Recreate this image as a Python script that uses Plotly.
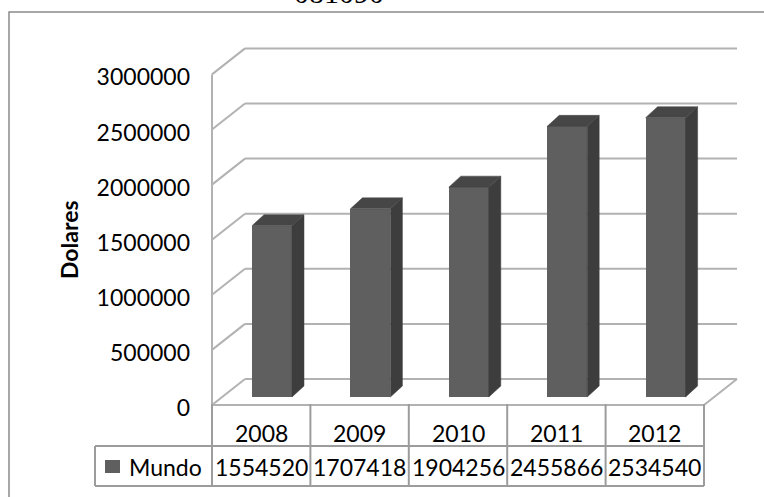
import plotly.graph_objects as go

# ---- data -------------------------------------------------------------
years = ["2008", "2009", "2010", "2011", "2012"]
mundo = [1554520, 1707418, 1904256, 2455866, 2534540]
y_ticks = [0, 500000, 1000000, 1500000, 2000000, 2500000, 3000000]
series_name = "Mundo"
axis_title = "Dolares"
chart_title = "081090"

# ---- layout constants (pixels) -----------------------------------------
W, H = 764, 497
CAT_W = 98.4          # width of one category on the front plane
X0 = 261.2            # front-plane centre of the first category
Y0 = 405.0            # front-plane zero line
PX_PER_UNIT = 110.2 / 1e6

WALL_DX, WALL_DY = 33, 26     # depth of the 3-D box
BAR_DX, BAR_DY = 10.8, 8      # where the column row sits inside the box
BAR_W = 40
BAR_DEPTH_X, BAR_DEPTH_Y = 12, 11

FONT = "Lato"
GRID = "#b2b2b2"
TABLE = "#9c9c9c"
FRONT = "#5f5f5f"
SIDE = "#3d3d3d"
TOP = "#464646"


def ux(px):
    return px / CAT_W


def uy(px):
    return px / PX_PER_UNIT


def px_x(p):
    return (p - X0) / CAT_W


def px_y(p):
    return (Y0 - p) / PX_PER_UNIT


def paper_y(p):
    return 1 - p / H


n = len(years)
left, right = -0.5, n - 0.5
wdx, wdy = ux(WALL_DX), uy(WALL_DY)
top_tick = y_ticks[-1]

fig = go.Figure()
shapes = []


def wall_line(xs, ys):
    shapes.append(dict(type="path", xref="x", yref="y", layer="below",
                       path="M " + " L ".join(f"{a} {b}" for a, b in zip(xs, ys)),
                       line=dict(color=GRID, width=2)))


# ---- walls and floor (behind the columns) --------------------------------
for t in y_ticks:
    wall_line([left + wdx, right + wdx], [t + wdy, t + wdy])   # back wall
    wall_line([left, left + wdx], [t, t + wdy])                # side wall
wall_line([left, left], [0, top_tick])                         # wall front edge
wall_line([left, right, right + wdx], [0, 0, wdy])             # floor edges

# ---- columns ------------------------------------------------------------
bdx, bdy = ux(BAR_DX), uy(BAR_DY)
bw = ux(BAR_W)
ddx, ddy = ux(BAR_DEPTH_X), uy(BAR_DEPTH_Y)
bar_x = [i + bdx for i in range(n)]

fig.add_trace(go.Bar(x=bar_x, y=mundo, base=bdy, width=bw, name=series_name,
                     marker=dict(color=FRONT, line=dict(width=0)),
                     showlegend=False))

for xc, v in zip(bar_x, mundo):
    xl, xr = xc - bw / 2, xc + bw / 2
    b, t = bdy, bdy + v
    fig.add_trace(go.Scatter(
        x=[xr, xr + ddx, xr + ddx, xr, xr],
        y=[b, b + ddy, t + ddy, t, b],
        mode="lines", fill="toself", fillcolor=SIDE,
        line=dict(color=SIDE, width=0.5),
        hoverinfo="skip", showlegend=False))
    fig.add_trace(go.Scatter(
        x=[xl, xl + ddx, xr + ddx, xr, xl],
        y=[t, t + ddy, t + ddy, t, t],
        mode="lines", fill="toself", fillcolor=TOP,
        line=dict(color=TOP, width=0.5),
        hoverinfo="skip", showlegend=False))

# ---- data table ----------------------------------------------------------
row_top, row_mid, row_bot = 404, 446, 486
key_left = px_x(95)
for i in range(n + 1):
    shapes.append(dict(type="line", xref="x", yref="paper",
                       x0=i - 0.5, x1=i - 0.5,
                       y0=paper_y(row_top), y1=paper_y(row_bot),
                       line=dict(color=TABLE, width=2)))
for r in (row_mid, row_bot):
    shapes.append(dict(type="line", xref="x", yref="paper",
                       x0=key_left, x1=right, y0=paper_y(r), y1=paper_y(r),
                       line=dict(color=TABLE, width=2)))
shapes.append(dict(type="line", xref="x", yref="paper",
                   x0=key_left, x1=key_left,
                   y0=paper_y(row_mid), y1=paper_y(row_bot),
                   line=dict(color=TABLE, width=2)))
# legend key swatch
shapes.append(dict(type="rect", xref="paper", yref="paper",
                   x0=105 / W, x1=120 / W, y0=paper_y(473), y1=paper_y(460),
                   fillcolor=FRONT, line=dict(width=0)))
# chart frame
shapes.append(dict(type="path", xref="paper", yref="paper",
                   path=f"M {9 / W} 0 L {9 / W} {paper_y(12)} L 1 {paper_y(12)}",
                   line=dict(color="#8a8a8a", width=1.5)))

cell_font = dict(family=FONT, size=23, color="black")
annotations = []
for i, (yr, v) in enumerate(zip(years, mundo)):
    annotations.append(dict(x=i, y=paper_y(433), xref="x", yref="paper",
                            text=yr, showarrow=False,
                            xanchor="center", yanchor="middle", font=cell_font))
    annotations.append(dict(x=i, y=paper_y(467), xref="x", yref="paper",
                            text=f"{v}", showarrow=False,
                            xanchor="center", yanchor="middle", font=cell_font))
annotations.append(dict(x=127 / W, y=paper_y(467), xref="paper", yref="paper",
                        text=series_name, showarrow=False,
                        xanchor="left", yanchor="middle", font=cell_font))
# value-axis title
annotations.append(dict(x=69 / W, y=paper_y(240), xref="paper", yref="paper",
                        text=f"<b>{axis_title}</b>", showarrow=False,
                        textangle=-90, xanchor="center", yanchor="middle",
                        font=cell_font))
annotations.append(dict(x=339 / W, y=paper_y(11.5), xref="paper", yref="paper",
                        text=chart_title, showarrow=False,
                        xanchor="center", yanchor="bottom",
                        font=dict(family="Liberation Serif", size=30,
                                  color="black")))

fig.update_layout(
    width=W, height=H,
    margin=dict(l=0, r=0, t=0, b=0),
    paper_bgcolor="white", plot_bgcolor="rgba(0,0,0,0)",
    bargap=0, showlegend=False,
    shapes=shapes, annotations=annotations,
    xaxis=dict(range=[px_x(0), px_x(W)], visible=False, fixedrange=True),
    yaxis=dict(range=[px_y(H), px_y(0)], anchor="free", position=212 / W,
               tickvals=y_ticks, tickformat="d", showgrid=False,
               zeroline=False, showline=False, ticks="",
               ticklabelstandoff=22, ticklabelshift=3, fixedrange=True,
               tickfont=dict(family=FONT, size=23, color="black")),
)

fig.write_html("out.html", config={"displayModeBar": False})
